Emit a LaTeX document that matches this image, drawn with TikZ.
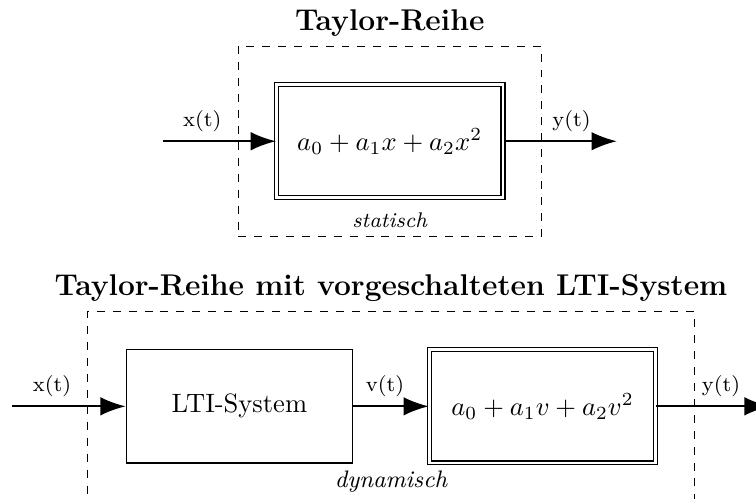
\documentclass[tikz,border=0pt]{standalone}
\usepackage{amsmath}
\usetikzlibrary{arrows.meta,positioning,fit}

\begin{document}
\begin{tikzpicture}[
    block/.style={draw, minimum width=3cm, minimum height=1.5cm, inner sep=0pt},
    nlblock/.style={block, double, double distance=1.1pt},
    frame/.style={draw, dashed, inner sep=0.5cm},
    sig/.style={thick, -{Latex[length=9.5pt,width=7pt]}},
    siglabel/.style={above, font=\footnotesize},
    headline/.style={font=\fontsize{11.3pt}{13pt}\selectfont\bfseries},
    kind/.style={anchor=south, font=\itshape},
  ]

    % Page
    \useasboundingbox (0,0) rectangle (10.01,-6.6);

    % --- Static system ---

    % Block
    \node[nlblock] (taylor) at (5.16,-1.87) {$a_0+a_1x+a_2x^2$};

    % Ends of the signals
    \coordinate[left=1.5cm of taylor] (xin);
    \coordinate[right=1.5cm of taylor] (yout);

    % Signals
    \draw[sig] (xin) -- node[siglabel, pos=0.35] (xlab) {x(t)} (taylor);
    \draw[sig] (taylor) -- node[siglabel, pos=0.6] (ylab) {y(t)} (yout);

    % Frame
    \node[frame, fit=(taylor)] (static) {};
    \node[kind, font=\footnotesize\itshape] (staticlab) at (static.south) {statisch};
    \node[headline, above=0pt of static] (statictitle) {Taylor-Reihe};

    % --- Dynamic system ---

    % Blocks
    \node[block] (lti) at (3.17,-5.38) {LTI-System};
    \node[nlblock, right=1cm of lti] (taylorv) {$a_0+a_1v+a_2v^2$};

    % Ends of the signals
    \coordinate[left=1.5cm of lti] (xinv);
    \coordinate[right=1.5cm of taylorv] (youtv);

    % Signals
    \draw[sig] (xinv) -- node[siglabel, pos=0.35] (xlabv) {x(t)} (lti);
    \draw[sig] (lti) -- node[siglabel, pos=0.42] (vlab) {v(t)} (taylorv);
    \draw[sig] (taylorv) -- node[siglabel, pos=0.57] (ylabv) {y(t)} (youtv);

    % Frame
    \node[frame, fit=(lti)(taylorv)] (dynamic) {};
    \node[kind, font=\small\itshape] (dynamiclab) at (dynamic.south) {dynamisch};
    \node[headline, above=0pt of dynamic] (dynamictitle) {Taylor-Reihe mit vorgeschalteten LTI-System};
  \end{tikzpicture}
\end{document}
